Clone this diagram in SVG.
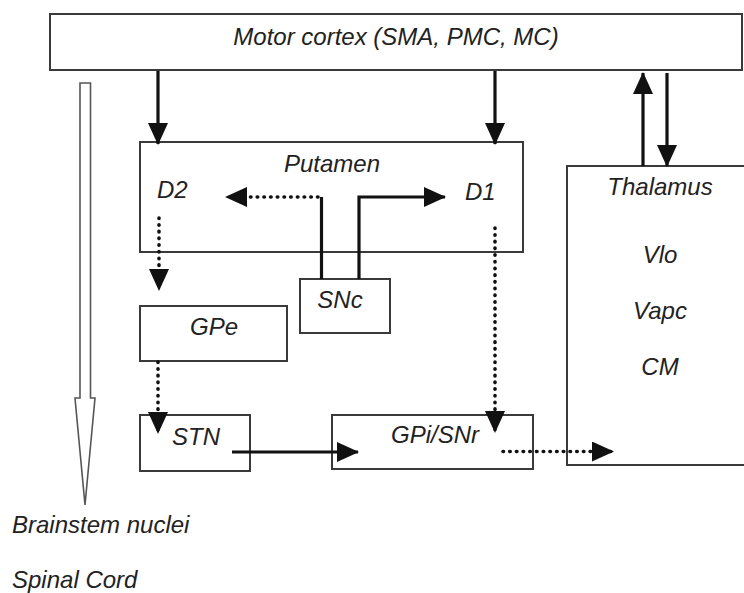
<svg xmlns="http://www.w3.org/2000/svg" width="744" height="593" viewBox="0 0 744 593">
<defs>
<style>
.box{fill:#fff;stroke:#3a3a3a;stroke-width:2}
.lbl{font-family:"Liberation Sans",Arial,sans-serif;font-style:italic;font-size:24px;fill:#222}
.mid{text-anchor:middle}
.solid{fill:none;stroke:#111;stroke-width:3.2}
.dot{fill:none;stroke:#111;stroke-width:3.6;stroke-linecap:round;stroke-dasharray:0.5 6.2}
.white{fill:#fff;stroke:#555;stroke-width:1.6}
</style>
<marker id="ah" viewBox="0 0 22 20" refX="21" refY="10" markerWidth="22" markerHeight="20" markerUnits="userSpaceOnUse" orient="auto">
<path d="M0,0 L22,10 L0,20 Z" fill="#111"/>
</marker>
</defs>
<rect width="744" height="593" fill="#fff"/>

<g id="cortex">
<rect class="box" x="50" y="14" width="692" height="56"/>
<text class="lbl mid" x="396" y="45">Motor cortex (SMA, PMC, MC)</text>
</g>
<g id="putamen">
<rect class="box" x="140" y="142" width="383" height="110"/>
<text class="lbl mid" x="332" y="172">Putamen</text>
<text class="lbl" x="157" y="198">D2</text>
<text class="lbl" x="465" y="200">D1</text>
</g>
<g id="snc">
<rect class="box" x="300" y="279" width="90" height="54"/>
<text class="lbl mid" x="340" y="308">SNc</text>
</g>
<g id="gpe">
<rect class="box" x="140" y="306" width="147" height="55"/>
<text class="lbl mid" x="214" y="335">GPe</text>
</g>
<g id="stn">
<rect class="box" x="140" y="415" width="110" height="56"/>
<text class="lbl mid" x="196" y="445">STN</text>
</g>
<g id="gpi">
<rect class="box" x="332" y="415" width="201" height="54"/>
<text class="lbl mid" x="435" y="443">GPi/SNr</text>
</g>
<g id="thalamus">
<rect class="box" x="567" y="166" width="190" height="299"/>
<text class="lbl mid" x="660" y="195">Thalamus</text>
<text class="lbl mid" x="660" y="263">Vlo</text>
<text class="lbl mid" x="660" y="319">Vapc</text>
<text class="lbl mid" x="660" y="375">CM</text>
</g>
<g id="brainstem">
<text class="lbl" x="12" y="533">Brainstem nuclei</text>
<text class="lbl" x="12" y="588">Spinal Cord</text>
</g>

<g id="connectors">
<line class="solid" x1="158" y1="71" x2="158" y2="144" marker-end="url(#ah)"/>
<line class="solid" x1="495" y1="71" x2="495" y2="144" marker-end="url(#ah)"/>
<line class="solid" x1="643" y1="166" x2="643" y2="73" marker-end="url(#ah)"/>
<line class="solid" x1="667" y1="73" x2="667" y2="166" marker-end="url(#ah)"/>
<path class="solid" d="M321.5,279 V197"/>
<path class="dot" d="M318,197 H226" marker-end="url(#ah)"/>
<path class="solid" d="M359,279 V197 H445" marker-end="url(#ah)"/>
<line class="dot" x1="159" y1="218" x2="159" y2="290" marker-end="url(#ah)"/>
<line class="dot" x1="158" y1="362" x2="158" y2="433" marker-end="url(#ah)"/>
<line class="dot" x1="495" y1="228" x2="495" y2="432" marker-end="url(#ah)"/>
<line class="solid" x1="232" y1="452" x2="358" y2="452" marker-end="url(#ah)"/>
<line class="dot" x1="503" y1="451.5" x2="613" y2="451.5" marker-end="url(#ah)"/>
<polygon class="white" points="80,83 90.5,83 90.5,398 95,398 85,505 75,398 80,398"/>
</g>
</svg>
